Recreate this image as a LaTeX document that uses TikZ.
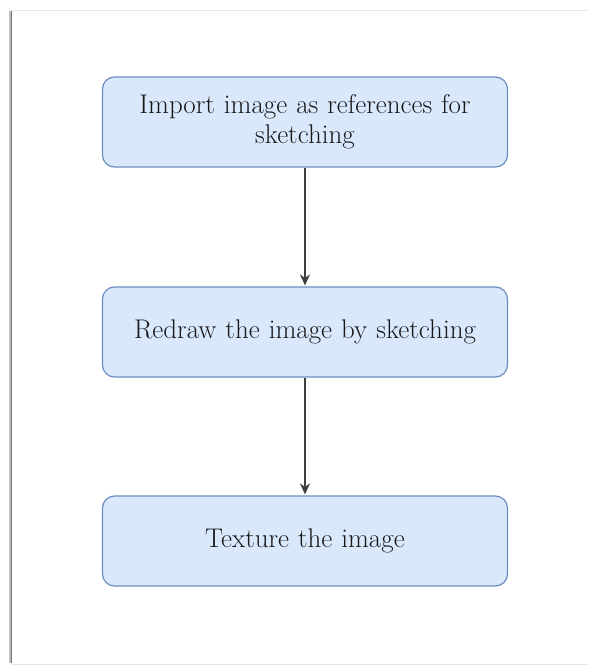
\documentclass[tikz,border=0pt]{standalone}
\usetikzlibrary{arrows.meta}

\definecolor{caixa}{RGB}{218,232,252}
\definecolor{borda}{RGB}{108,142,191}

\begin{document}
\begin{tikzpicture}[x=1pt, y=-1pt, > = {Stealth[length=11pt,width=10pt]}, shorten > = 1pt]
    \tikzstyle{etapa}=[rectangle, rounded corners=12pt, draw=borda, fill=caixa, line width=1.2pt,
        minimum width=405pt, minimum height=90pt, text width=395pt, align=center,
        text=black!90, font=\fontsize{27}{29.5}\selectfont]

    % Moldura
    \useasboundingbox (0,0) rectangle (589,666);
    \draw[black!10, line width=1pt] (11,11) -- (589,11);
    \draw[black!10, line width=1pt] (11,664) -- (589,664);
    \draw[black!25, line width=3pt] (10,11) -- (10,664);
    \draw[black!55, line width=1pt] (11.5,11) -- (11.5,664);

    % Nós
    \node[etapa] (importar) at (305,122) {Import image as references for\\ sketching};
    \node[etapa] (redesenhar) at (305,332) {Redraw the image by sketching};
    \node[etapa] (texturizar) at (305,541) {Texture the image};

    % Arestas
    \draw[->, line width=1.6pt, black!75] (importar) -- (redesenhar);
    \draw[->, line width=1.6pt, black!75] (redesenhar) -- (texturizar);
\end{tikzpicture}
\end{document}
